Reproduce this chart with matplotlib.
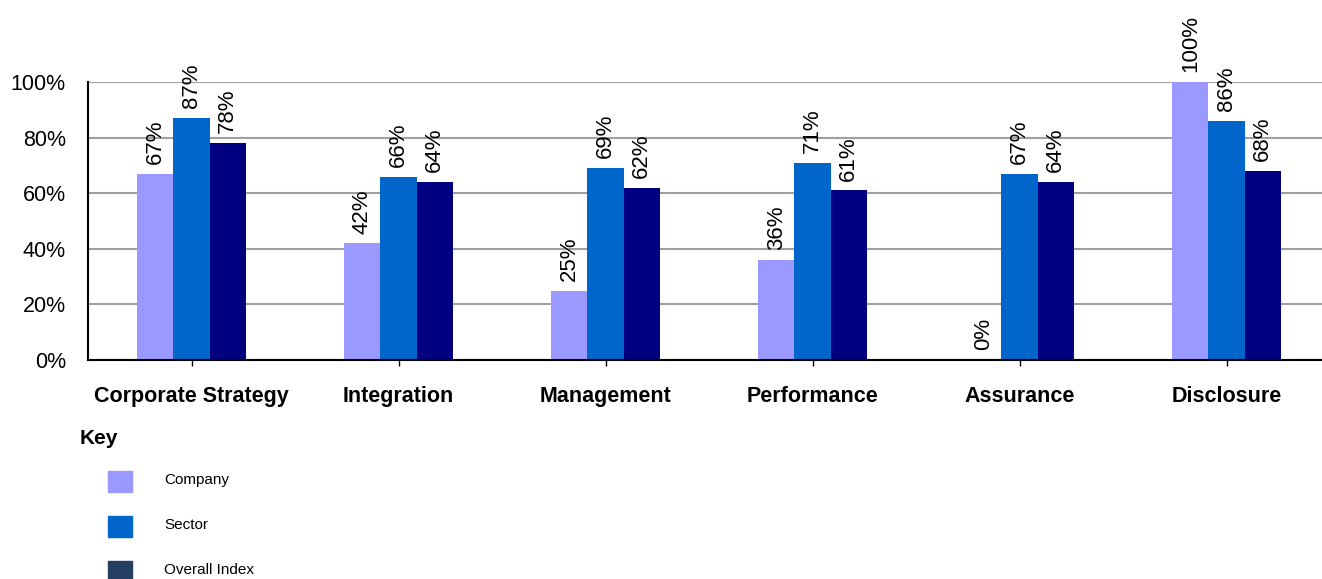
import matplotlib

matplotlib.use("Agg")
import matplotlib.pyplot as plt
from matplotlib.patches import Rectangle
import numpy as np

plt.rcParams["font.family"] = ["Liberation Sans", "DejaVu Sans"]

categories = ["Corporate Strategy", "Integration", "Management", "Performance", "Assurance", "Disclosure"]
company = [67, 42, 25, 36, 0, 100]
sector = [87, 66, 69, 71, 67, 86]
overall = [78, 64, 62, 61, 64, 68]
series_names = ["Company", "Sector", "Overall Index"]
bar_colors = ["#9999FF", "#0066CC", "#000080"]
key_colors = ["#9999FF", "#0066CC", "#243F60"]

W, H = 1322, 579
fig = plt.figure(figsize=(W / 100, H / 100), dpi=100)


def fx(px):
    return px / W


def fy(py):
    return 1 - py / H


ax = fig.add_axes([fx(88), fy(360), fx(1330) - fx(88), fy(82) - fy(360)])

x = np.arange(len(categories))
width = 0.174
for i, (vals, color) in enumerate(zip([company, sector, overall], bar_colors)):
    pos = x + (i - 1) * width
    ax.bar(pos, np.array(vals) / 100, width=width, color=color, zorder=3)
    for xp, v in zip(pos, vals):
        ax.annotate(f"{v}%", (xp, v / 100), xytext=(0, 7), textcoords="offset points",
                    rotation=90, ha="center", va="bottom", fontsize=16, annotation_clip=False)

ax.set_xlim(-0.5, len(categories) - 0.5)
ax.set_ylim(0, 1)
ticks = np.arange(0, 1.01, 0.2)
ax.set_yticks(ticks)
ax.set_yticklabels([f"{int(round(t * 100))}%" for t in ticks], fontsize=15.5)
ax.yaxis.grid(True, color="#A0A0A0", linewidth=1.5, zorder=0)
ax.set_axisbelow(True)
ax.set_xticks(x)
ax.set_xticklabels(categories, fontsize=15.5, fontweight="bold")
ax.tick_params(axis="x", direction="inout", length=9, width=1, pad=14)
ax.tick_params(axis="y", length=0, pad=16)
for side in ["top", "right"]:
    ax.spines[side].set_visible(False)
ax.spines["left"].set_linewidth(1.5)
ax.spines["bottom"].set_linewidth(1.5)
ax.spines["bottom"].set_zorder(4)

# key below the chart
fig.text(fx(80), fy(439), "Key", fontsize=15, fontweight="bold", va="center", ha="left")
for k, (name, color) in enumerate(zip(series_names, key_colors)):
    top = 471 + k * 45
    fig.patches.append(Rectangle((fx(108), fy(top + 21)), fx(24), fy(top) - fy(top + 21),
                                 transform=fig.transFigure, color=color))
    fig.text(fx(164), fy(top + 9), name, fontsize=11, va="center", ha="left")

fig.savefig("out.png", dpi=100)
